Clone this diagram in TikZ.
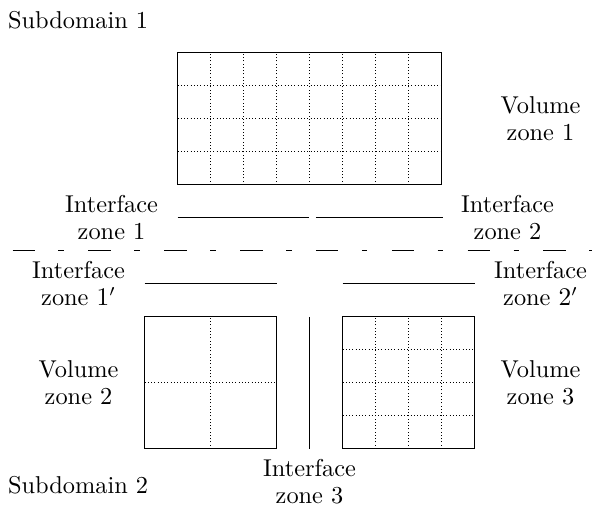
\documentclass[tikz,border=0pt]{standalone}
\begin{document}
\begin{tikzpicture}[x=0.5cm,y=0.5cm,
  lbl/.style={align=center,inner sep=0pt,font=\fontsize{10.5}{11.5}\selectfont},
  zonebox/.style={draw,line width=0.4pt,inner sep=0pt,outer sep=0pt},
  gridline/.style={densely dotted,line width=0.4pt},
  iface/.style={line width=0.5pt}]
\useasboundingbox (-0.38,1.6) rectangle (17.56,-13.73);
% volume zones
\node[zonebox,minimum width=4cm,minimum height=2cm,anchor=north west] (v1) at (5,0) {};
\node[zonebox,minimum width=2cm,minimum height=2cm,anchor=north west] (v2) at (4,-8) {};
\node[zonebox,minimum width=2cm,minimum height=2cm,anchor=north west] (v3) at (10,-8) {};
\draw[gridline] (v1.south west) grid[step=1] (v1.north east);
\draw[gridline] (v2.south west) grid[step=2] (v2.north east);
\draw[gridline] (v3.south west) grid[step=1] (v3.north east);
\draw (v1.south west) rectangle (v1.north east);
\draw (v2.south west) rectangle (v2.north east);
\draw (v3.south west) rectangle (v3.north east);
% interface lines
\coordinate (i1a) at (5,-5);   \coordinate (i1b) at (8.98,-5);
\coordinate (i2a) at (9.19,-5); \coordinate (i2b) at (13.03,-5);
\coordinate (j1a) at (4,-7);   \coordinate (j1b) at (8,-7);
\coordinate (j2a) at (10,-7);  \coordinate (j2b) at (14,-7);
\coordinate (i3a) at (9,-8);   \coordinate (i3b) at (9,-12);
\draw[iface] (i1a) -- (i1b);
\draw[iface] (i2a) -- (i2b);
\draw[iface] (j1a) -- (j1b);
\draw[iface] (j2a) -- (j2b);
\draw[iface] (i3a) -- (i3b);
% subdomain separator
\coordinate (sa) at (0,-6); \coordinate (sb) at (17.56,-6);
\draw[line width=0.4pt,dash pattern=on 9.7pt off 10.1pt on 2.4pt off 10.5pt] (sa) -- (sb);
% labels
\node[lbl,anchor=base west] (sd1) at (-0.15,0.75) {Subdomain 1};
\node[lbl,anchor=base west] (sd2) at (-0.15,-13.35) {Subdomain 2};
\node[lbl] (lv1) at (16,-2) {Volume\\zone 1};
\node[lbl] (lv2) at (2,-10) {Volume\\zone 2};
\node[lbl] (lv3) at (16,-10) {Volume\\zone 3};
\node[lbl] (li1) at (3,-5) {Interface\\zone 1};
\node[lbl] (li2) at (15,-5) {Interface\\zone 2};
\node[lbl] (lj1) at (2,-7) {Interface\\zone $1'$};
\node[lbl] (lj2) at (16,-7) {Interface\\zone $2'$};
\node[lbl] (li3) at (9,-13) {Interface\\zone 3};
\end{tikzpicture}
\end{document}
